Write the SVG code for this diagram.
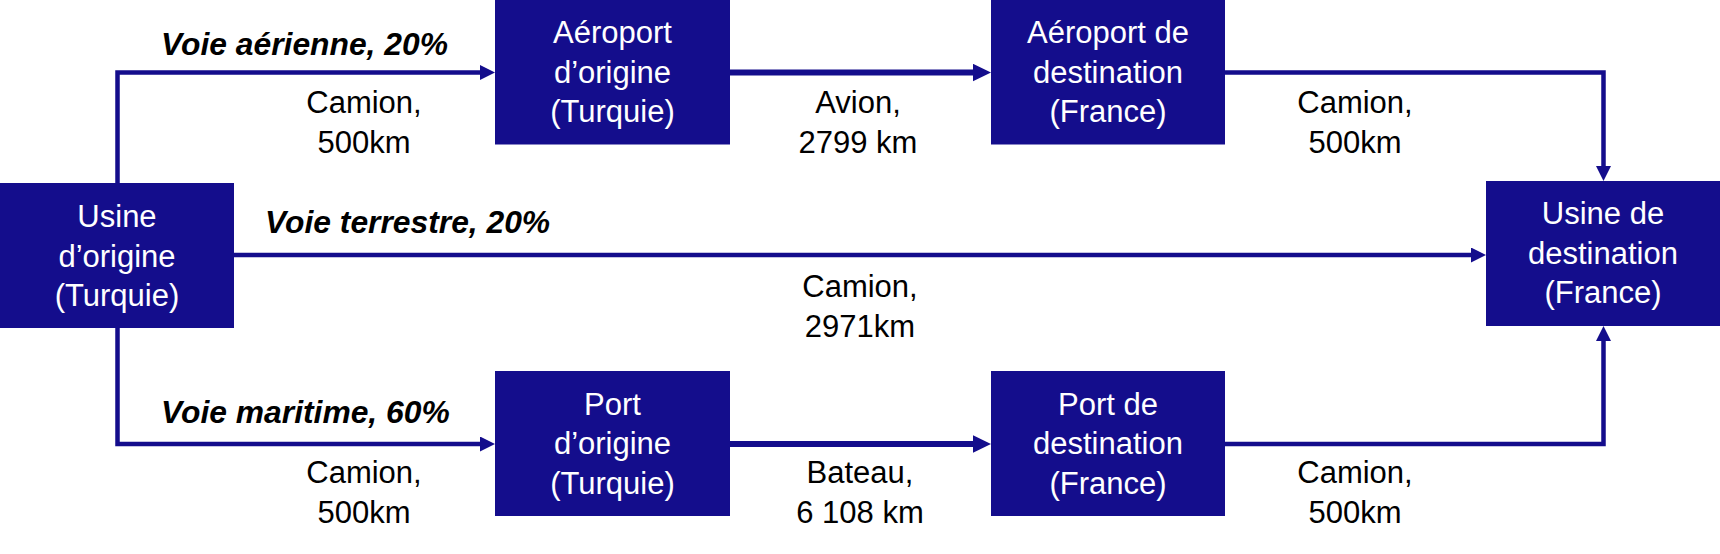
<svg xmlns="http://www.w3.org/2000/svg" width="1720" height="554" viewBox="0 0 1720 554">
<style>
.box{fill:#140D8C}
.bt{fill:#FFFFFF;font-family:"Liberation Sans",Arial,sans-serif;font-size:31px;text-anchor:middle}
.lb{fill:#000000;font-family:"Liberation Sans",Arial,sans-serif;font-size:31px;text-anchor:middle}
.rt{fill:#000000;font-family:"Liberation Sans",Arial,sans-serif;font-size:31.8px;font-weight:bold;font-style:italic}
.ln{fill:none;stroke:#140D8C;stroke-width:4.5}
.lnb{fill:none;stroke:#140D8C;stroke-width:6}
</style>
<defs>
<marker id="ah" markerUnits="userSpaceOnUse" markerWidth="16" markerHeight="16" refX="1" refY="7.5" orient="auto">
<path d="M0,0 L15,7.5 L0,15 Z" fill="#140D8C"/>
</marker>
<marker id="ahb" markerUnits="userSpaceOnUse" markerWidth="20" markerHeight="20" refX="1" refY="8.7" orient="auto">
<path d="M0,0 L18,8.7 L0,17.4 Z" fill="#140D8C"/>
</marker>
</defs>
<rect width="1720" height="554" fill="#FFFFFF"/>
<g id="connectors">
<path class="ln" d="M117.5,183 V72.5 H481" marker-end="url(#ah)"/>
<path class="lnb" d="M730,72.5 H974" marker-end="url(#ahb)"/>
<path class="ln" d="M1225,72.5 H1603.5 V167" marker-end="url(#ah)"/>
<path class="ln" d="M234,255 H1472" marker-end="url(#ah)"/>
<path class="ln" d="M117.5,328 V444 H481" marker-end="url(#ah)"/>
<path class="lnb" d="M730,444 H974" marker-end="url(#ahb)"/>
<path class="ln" d="M1225,444 H1603.5 V340" marker-end="url(#ah)"/>
</g>
<g id="labels">
<text class="rt" x="161" y="55">Voie aérienne, 20%</text>
<text class="rt" x="265" y="233">Voie terrestre, 20%</text>
<text class="rt" x="161" y="423">Voie maritime, 60%</text>
<text class="lb" x="364" y="113">Camion,</text>
<text class="lb" x="364" y="152.5">500km</text>
<text class="lb" x="858" y="113">Avion,</text>
<text class="lb" x="858" y="152.5">2799 km</text>
<text class="lb" x="1355" y="113">Camion,</text>
<text class="lb" x="1355" y="152.5">500km</text>
<text class="lb" x="860" y="297">Camion,</text>
<text class="lb" x="860" y="337">2971km</text>
<text class="lb" x="364" y="483">Camion,</text>
<text class="lb" x="364" y="523">500km</text>
<text class="lb" x="860" y="483">Bateau,</text>
<text class="lb" x="860" y="523">6 108 km</text>
<text class="lb" x="1355" y="483">Camion,</text>
<text class="lb" x="1355" y="523">500km</text>
</g>
<g id="usine-origine">
<rect class="box" x="0" y="183" width="234" height="145"/>
<text class="bt" x="117" y="227">Usine</text>
<text class="bt" x="117" y="266.5">d’origine</text>
<text class="bt" x="117" y="306">(Turquie)</text>
</g>
<g id="aeroport-origine">
<rect class="box" x="495" y="0" width="235" height="144.5"/>
<text class="bt" x="612.5" y="43.3">Aéroport</text>
<text class="bt" x="612.5" y="82.7">d’origine</text>
<text class="bt" x="612.5" y="122">(Turquie)</text>
</g>
<g id="aeroport-destination">
<rect class="box" x="991" y="0" width="234" height="144.5"/>
<text class="bt" x="1108" y="43.3">Aéroport de</text>
<text class="bt" x="1108" y="82.7">destination</text>
<text class="bt" x="1108" y="122">(France)</text>
</g>
<g id="usine-destination">
<rect class="box" x="1486" y="181" width="234" height="145"/>
<text class="bt" x="1603" y="224">Usine de</text>
<text class="bt" x="1603" y="263.5">destination</text>
<text class="bt" x="1603" y="303">(France)</text>
</g>
<g id="port-origine">
<rect class="box" x="495" y="371" width="235" height="145"/>
<text class="bt" x="612.5" y="414.5">Port</text>
<text class="bt" x="612.5" y="454">d’origine</text>
<text class="bt" x="612.5" y="493.5">(Turquie)</text>
</g>
<g id="port-destination">
<rect class="box" x="991" y="371" width="234" height="145"/>
<text class="bt" x="1108" y="414.5">Port de</text>
<text class="bt" x="1108" y="454">destination</text>
<text class="bt" x="1108" y="493.5">(France)</text>
</g>
</svg>
